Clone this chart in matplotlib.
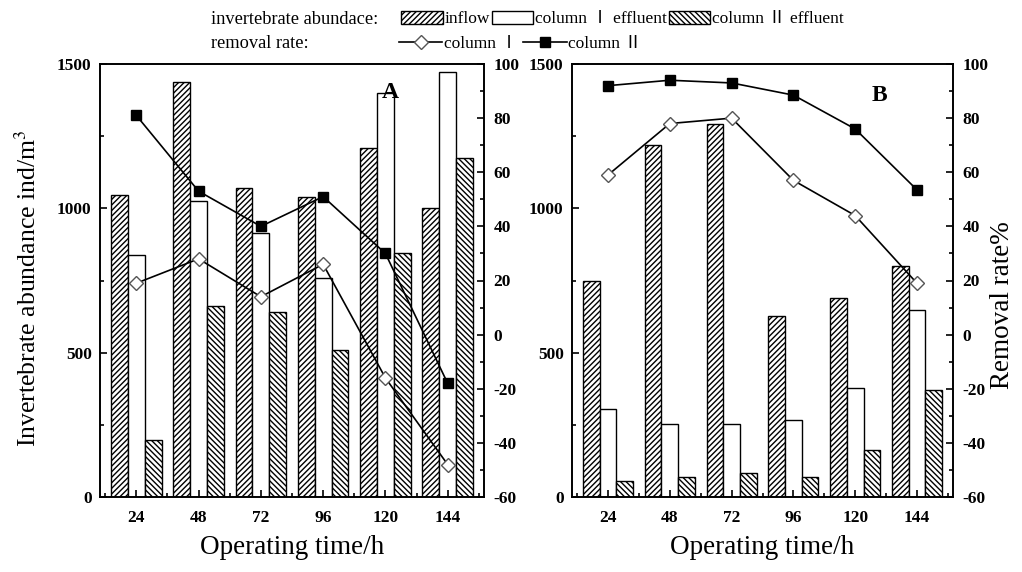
import numpy as np
import matplotlib
matplotlib.use('Agg')
import matplotlib.pyplot as plt
from matplotlib.ticker import MultipleLocator

# operating time (h)
TIME = [24, 48, 72, 96, 120, 144]

# panel A: invertebrate abundance (ind/m3)
A_INFLOW = [1045, 1436, 1071, 1039, 1210, 1000]
A_COL1 = [838, 1025, 915, 759, 1398, 1472]
A_COL2 = [199, 662, 640, 508, 844, 1173]
# panel A: removal rate (%)
A_RATE1 = [19, 28, 14, 26, -16, -48]
A_RATE2 = [81, 53, 40, 51, 30, -18]

# panel B
B_INFLOW = [749, 1219, 1293, 626, 688, 801]
B_COL1 = [304, 254, 254, 268, 378, 647]
B_COL2 = [54, 69, 83, 69, 164, 370]
B_RATE1 = [59, 78, 80, 57, 44, 19]
B_RATE2 = [92, 94, 93, 88.5, 76, 53.5]

plt.rcParams['font.family'] = ['Liberation Serif', 'Noto Sans CJK SC']
plt.rcParams['mathtext.fontset'] = 'stix'
plt.rcParams['axes.unicode_minus'] = False
plt.rcParams['hatch.linewidth'] = 1.0
plt.rcParams['axes.linewidth'] = 1.2

W = 6.5
fig = plt.figure(figsize=(10.22, 5.72), dpi=100)


def panel(rect, inflow, col1, col2, rate1, rate2, tag, tagpos):
    ax = fig.add_axes(rect)
    t = np.array(TIME)
    b1 = ax.bar(t - W, inflow, W, color='white', edgecolor='black', hatch='//////', lw=1.0)
    b2 = ax.bar(t, col1, W, color='white', edgecolor='black', lw=1.0)
    b3 = ax.bar(t + W, col2, W, color='white', edgecolor='black', hatch='\\\\\\\\\\\\', lw=1.0)
    ax.set_xlim(10, 158)
    ax.set_ylim(0, 1500)
    ax.set_xticks(TIME)
    ax.xaxis.set_minor_locator(MultipleLocator(12))
    ax.yaxis.set_major_locator(MultipleLocator(500))
    ax.yaxis.set_minor_locator(MultipleLocator(250))
    ax.tick_params(which='both', direction='in', width=1.2, labelsize=12.5)
    ax.tick_params(which='major', length=5)
    ax.tick_params(which='minor', length=3)
    ax.tick_params(axis='x', pad=9)
    ax.tick_params(axis='y', pad=6)

    ax2 = ax.twinx()
    l1, = ax2.plot(TIME, rate1, color='black', lw=1.2, marker='D', ms=7,
                   mfc='white', mec='#555555', mew=1.0)
    l2, = ax2.plot(TIME, rate2, color='black', lw=1.2, marker='s', ms=7,
                   mfc='black', mec='black')
    ax2.set_ylim(-60, 100)
    ax2.yaxis.set_major_locator(MultipleLocator(20))
    ax2.yaxis.set_minor_locator(MultipleLocator(10))
    ax2.tick_params(which='both', direction='in', width=1.2, labelsize=12.5, pad=7)
    ax2.tick_params(which='major', length=5)
    ax2.tick_params(which='minor', length=3)
    for a in (ax, ax2):
        for lab in a.get_xticklabels() + a.get_yticklabels():
            lab.set_fontweight('bold')
    ax.text(tagpos[0], tagpos[1], tag, transform=ax.transAxes, fontsize=17,
            fontweight='bold', ha='center', va='center')
    ax.set_xlabel('Operating time/h', fontsize=19.5, labelpad=7)
    return ax, ax2, (b1, b2, b3), (l1, l2)


axA, axA2, bars, lines = panel([100 / 1022, 75 / 572, 384 / 1022, 433 / 572],
                               A_INFLOW, A_COL1, A_COL2, A_RATE1, A_RATE2, 'A', (0.755, 0.935))
axB, axB2, _, _ = panel([572 / 1022, 75 / 572, 381 / 1022, 433 / 572],
                        B_INFLOW, B_COL1, B_COL2, B_RATE1, B_RATE2, 'B', (0.808, 0.928))

fig.text(28 / 1022, 1 - 288 / 572, 'Invertebrate abundance ind/m$^3$', rotation=90,
         fontsize=18.5, ha='center', va='center')
fig.text(1002 / 1022, 1 - 305 / 572, 'Removal rate%', rotation=90,
         fontsize=19.5, ha='center', va='center')

# legend rows
fig.text(211 / 1022, 1 - 19 / 572, 'invertebrate abundace:', fontsize=13.2, va='center')
fig.text(211 / 1022, 1 - 44 / 572, 'removal rate:', fontsize=13.2, va='center')
fig.legend(bars, ['inflow', 'column Ⅰ effluent', 'column Ⅱ effluent'],
           loc='center left', bbox_to_anchor=(401 / 1022, 1 - 19 / 572), ncol=3,
           frameon=False, fontsize=12.5, handlelength=2.4, handleheight=0.8,
           handletextpad=0.1, columnspacing=0.1, borderpad=0, borderaxespad=0)
fig.legend(lines, ['column Ⅰ', 'column Ⅱ'],
           loc='center left', bbox_to_anchor=(399 / 1022, 1 - 44 / 572), ncol=2,
           frameon=False, fontsize=12.5, handlelength=2.5,
           handletextpad=0.1, columnspacing=0.3, borderpad=0, borderaxespad=0)

fig.savefig('out.png', dpi=100)
